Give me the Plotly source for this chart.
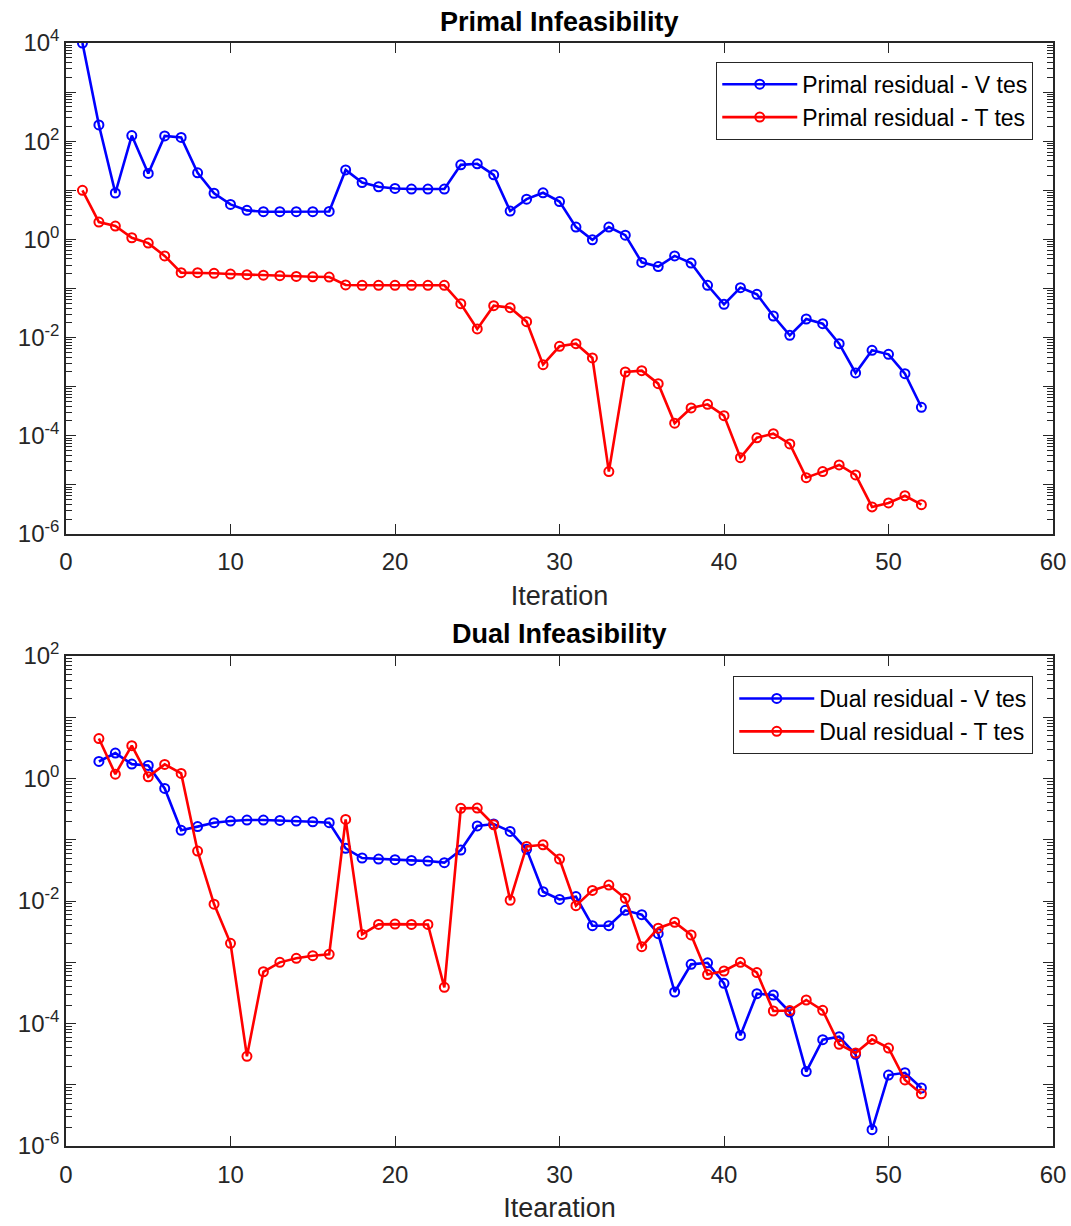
import plotly.graph_objects as go

# ---- data -------------------------------------------------------------
iter_primal = list(range(1, 53))
iter_dual = list(range(2, 53))

primal_v = [1e4, 214, 8.8, 130, 22, 128, 119, 22.7, 8.7, 5.15,
            3.9, 3.66, 3.66, 3.66, 3.66, 3.7, 26, 14.4, 11.8, 10.9,
            10.6, 10.6, 10.6, 33, 34.6, 20.6, 3.77, 6.6, 8.9, 5.9,
            1.78, 0.98, 1.78, 1.22, 0.34, 0.28, 0.46, 0.33, 0.116, 0.0476,
            0.104, 0.076, 0.0275, 0.0111, 0.0239, 0.0192, 0.0075, 0.0019, 0.0055, 0.00456,
            0.00184, 0.00038]

primal_t = [10, 2.25, 1.87, 1.08, 0.84, 0.46, 0.21, 0.21, 0.204, 0.197,
            0.191, 0.187, 0.182, 0.176, 0.173, 0.171, 0.118, 0.116, 0.116, 0.116,
            0.116, 0.116, 0.116, 0.049, 0.015, 0.0447, 0.0406, 0.0211, 0.00281, 0.00664,
            0.0075, 0.00384, 1.86e-5, 0.00199, 0.00212, 0.00115, 1.8e-4, 3.68e-4, 4.37e-4, 2.57e-4,
            3.58e-5, 9.1e-5, 1.1e-4, 6.8e-5, 1.4e-5, 1.86e-5, 2.54e-5, 1.59e-5, 3.55e-6, 4.28e-6,
            6.0e-6, 3.95e-6]

dual_v = [1.9, 2.6, 1.72, 1.64, 0.69, 0.143, 0.164, 0.19, 0.202, 0.21,
          0.21, 0.207, 0.202, 0.197, 0.19, 0.0725, 0.0504, 0.0485, 0.0473, 0.0461,
          0.045, 0.0423, 0.068, 0.168, 0.181, 0.137, 0.0698, 0.0142, 0.0106, 0.0118,
          0.00395, 0.00395, 0.00705, 0.00598, 0.00293, 3.27e-4, 9.25e-4, 9.8e-4, 4.53e-4, 6.4e-5,
          3.07e-4, 2.92e-4, 1.54e-4, 1.64e-5, 5.45e-5, 6.1e-5, 3.14e-5, 1.85e-6, 1.44e-5, 1.57e-5,
          8.85e-6]

dual_t = [4.5, 1.18, 3.44, 1.07, 1.7, 1.21, 0.0655, 0.0089, 0.00204, 2.91e-5,
          7.0e-4, 9.97e-4, 1.16e-3, 1.28e-3, 1.35e-3, 0.215, 2.85e-3, 4.15e-3, 4.2e-3, 4.15e-3,
          4.15e-3, 3.9e-4, 0.326, 0.33, 0.176, 0.0103, 0.078, 0.083, 0.0485, 0.0084,
          0.0149, 0.0182, 0.0111, 1.8e-3, 3.6e-3, 4.5e-3, 2.8e-3, 6.3e-4, 7.2e-4, 1.0e-3,
          6.8e-4, 1.6e-4, 1.63e-4, 2.42e-4, 1.64e-4, 4.57e-5, 3.3e-5, 5.5e-5, 3.98e-5, 1.2e-5,
          7.1e-6]

x_ticks = [0, 10, 20, 30, 40, 50, 60]
primal_decades = list(range(-6, 5))
dual_decades = list(range(-6, 3))

# ---- styling ----------------------------------------------------------
FONT = "Liberation Sans, Arial, sans-serif"
AX = "#262626"
BLUE = "#0000FF"
RED = "#FF0000"


def log_ticks(decades):
    vals = [10.0 ** d for d in decades]
    text = [f"10<sup>{d}</sup>" if d % 2 == 0 else "" for d in decades]
    minor = [m * 10.0 ** d for d in decades[:-1] for m in range(2, 10)]
    return vals, text, minor


def series(x, y, color, name, xa, ya, legend):
    return go.Scatter(
        x=x, y=y, name=name, mode="lines+markers",
        line=dict(color=color, width=2.6),
        marker=dict(symbol="circle-open", size=9, color=color,
                    line=dict(width=2, color=color)),
        xaxis=xa, yaxis=ya, legend=legend,
    )


fig = go.Figure()
fig.add_trace(series(iter_primal, primal_v, BLUE, "Primal residual - V tes", "x", "y", "legend"))
fig.add_trace(series(iter_primal, primal_t, RED, "Primal residual - T tes", "x", "y", "legend"))
fig.add_trace(series(iter_dual, dual_v, BLUE, "Dual residual - V tes", "x2", "y2", "legend2"))
fig.add_trace(series(iter_dual, dual_t, RED, "Dual residual - T tes", "x2", "y2", "legend2"))

tick_font = dict(family=FONT, size=24, color=AX)
label_font = dict(family=FONT, size=27, color=AX)


def xaxis(domain_anchor, title):
    return dict(
        range=[0, 60], tickvals=x_ticks, ticks="inside", ticklen=10, tickwidth=1.2,
        tickcolor=AX, showline=True, linecolor=AX, linewidth=1.5, mirror="allticks",
        showgrid=False, zeroline=False, tickfont=tick_font, anchor=domain_anchor,
        ticklabelstandoff=6, automargin=False,
        title=dict(text=title, font=label_font, standoff=12),
    )


def yaxis(decades, domain, anchor):
    vals, text, minor = log_ticks(decades)
    return dict(
        type="log", range=[decades[0], decades[-1]], domain=domain, anchor=anchor,
        tickvals=vals, ticktext=text, ticks="inside", ticklen=10, tickwidth=1.2,
        tickcolor=AX, showline=True, linecolor=AX, linewidth=1.5, mirror="allticks",
        showgrid=False, zeroline=False, tickfont=tick_font, automargin=False,
        minor=dict(tickvals=minor, ticks="inside", ticklen=6, tickwidth=1.2,
                   tickcolor=AX, showgrid=False),
    )


legend_style = dict(
    xanchor="right", yanchor="top", bgcolor="white", bordercolor=AX, borderwidth=1,
    font=dict(family=FONT, size=23, color="black"), itemwidth=75, tracegroupgap=0,
)

fig.update_layout(
    width=1071, height=1226,
    margin=dict(l=66, r=18, t=43, b=80),
    paper_bgcolor="white", plot_bgcolor="white",
    font=dict(family=FONT, color=AX),
    showlegend=True,
    xaxis=dict(xaxis("y", "Iteration"), domain=[0, 1]),
    yaxis=yaxis(primal_decades, [0.5549, 1.0], "x"),
    xaxis2=dict(xaxis("y2", "Itearation"), domain=[0, 1]),
    yaxis2=yaxis(dual_decades, [0.0, 0.4442], "x2"),
    legend=dict(legend_style, x=0.98, y=0.983),
    legend2=dict(legend_style, x=0.98, y=0.4261),
    annotations=[
        dict(text="<b>Primal Infeasibility</b>", x=0.5, y=1.019, xref="paper", yref="paper",
             xanchor="center", yanchor="middle", showarrow=False,
             font=dict(family=FONT, size=27, color="black")),
        dict(text="<b>Dual Infeasibility</b>", x=0.5, y=0.4642, xref="paper", yref="paper",
             xanchor="center", yanchor="middle", showarrow=False,
             font=dict(family=FONT, size=27, color="black")),
    ],
)

fig.write_html("out.html")
